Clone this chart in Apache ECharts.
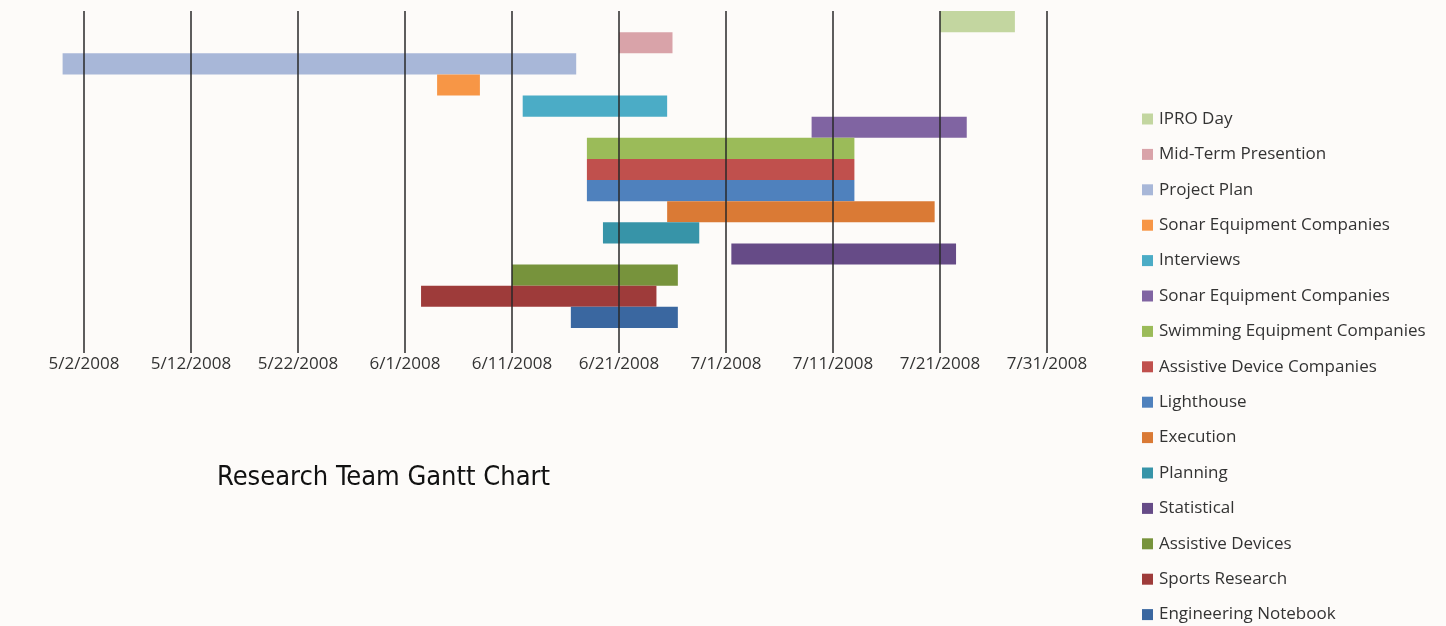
<!DOCTYPE html>
<html>
<head>
<meta charset="utf-8">
<script src="https://cdn.jsdelivr.net/npm/echarts@6/dist/echarts.min.js"></script>
<style>
  html, body { margin: 0; padding: 0; background: #fdfbf9; }
  #chart { width: 1446px; height: 626px; }
</style>
</head>
<body>
<div id="chart"></div>
<script>
// Tasks, top to bottom (legend order). Second "Sonar Equipment Companies" carries a zero-width space so the legend keeps both entries.
const taskNames = [
  'IPRO Day',
  'Mid-Term Presention',
  'Project Plan',
  'Sonar Equipment Companies',
  'Interviews',
  'Sonar Equipment Companies\u200b',
  'Swimming Equipment Companies',
  'Assistive Device Companies',
  'Lighthouse',
  'Execution',
  'Planning',
  'Statistical',
  'Assistive Devices',
  'Sports Research',
  'Engineering Notebook'
];
// Start of each task, in days after 5/2/2008
const startDays = [80, 50, -2, 33, 41, 68, 47, 47, 47, 54.5, 48.5, 60.5, 40, 31.5, 45.5];
// Length of each task, in days
const durationDays = [7, 5, 48, 4, 13.5, 14.5, 25, 25, 25, 25, 9, 21, 15.5, 22, 10];
const taskColors = ['#c3d6a0', '#d9a3a9', '#a8b7d8', '#f79646', '#4bacc6', '#8064a2', '#9bbb59', '#c0504d',
                    '#4f81bd', '#da7a35', '#3794a8', '#664b87', '#77933c', '#9e3b3a', '#3a67a0'];
// Tick labels for 5/2/2008 and every 10 days after
const tickLabels = ['5/2/2008', '5/12/2008', '5/22/2008', '6/1/2008', '6/11/2008',
                    '6/21/2008', '7/1/2008', '7/11/2008', '7/21/2008', '7/31/2008'];
const titleText = 'Research Team Gantt Chart';

// Spreadsheet serial day number of 5/2/2008 (a multiple of 10)
const SERIAL_0 = 39570;

const rowCats = taskNames.map((n, i) => 'row' + i).concat(['blank']);

const series = [{
  name: '__base',
  type: 'bar',
  stack: 'g',
  barCategoryGap: 0,
  itemStyle: { color: 'rgba(0,0,0,0)' },
  emphasis: { disabled: true },
  silent: true,
  data: rowCats.map((c, i) => i < startDays.length ? SERIAL_0 + startDays[i] : '-')
}];
taskNames.forEach((name, i) => {
  series.push({
    name: name,
    type: 'bar',
    stack: 'g',
    barCategoryGap: 0,
    itemStyle: { color: taskColors[i] },
    data: rowCats.map((c, j) => j === i ? durationDays[i] : '-')
  });
});

const chart = echarts.init(document.getElementById('chart'));
chart.setOption({
  backgroundColor: '#fdfbf9',
  animation: false,
  title: {
    text: titleText,
    left: 217,
    top: 464,
    padding: 0,
    textStyle: {
      fontFamily: "'DejaVu Sans Condensed', 'DejaVu Sans', sans-serif",
      fontSize: 27,
      fontWeight: 'normal',
      color: '#111'
    }
  },
  legend: {
    orient: 'vertical',
    left: 1142,
    top: 110,
    padding: 0,
    itemWidth: 11,
    itemHeight: 11,
    itemGap: 17.4,
    icon: 'rect',
    selectedMode: false,
    data: taskNames,
    textStyle: {
      fontFamily: "'Open Sans', sans-serif",
      fontSize: 17,
      lineHeight: 18,
      color: '#333',
      padding: [0, 0, 0, 1]
    }
  },
  grid: {
    left: -23,
    right: 399,
    top: 11,
    bottom: 277,
    outerBoundsMode: 'none',
    containLabel: false
  },
  xAxis: {
    type: 'value',
    min: SERIAL_0 - 10,
    max: SERIAL_0 + 90,
    interval: 10,
    z: 3,
    axisLine: { show: false },
    axisTick: { show: true, length: 4, lineStyle: { color: 'rgba(40,40,40,0.75)', width: 2 } },
    splitLine: { show: true, lineStyle: { color: 'rgba(40,40,40,0.75)', width: 2 } },
    axisLabel: {
      margin: 7,
      fontFamily: "'Open Sans', sans-serif",
      fontSize: 17,
      color: '#333',
      formatter: v => {
        const k = (v - SERIAL_0) / 10;
        return (k >= 0 && tickLabels[k]) ? tickLabels[k] : '';
      }
    }
  },
  yAxis: {
    type: 'category',
    inverse: true,
    data: rowCats,
    show: false
  },
  series: series
});
</script>
</body>
</html>
